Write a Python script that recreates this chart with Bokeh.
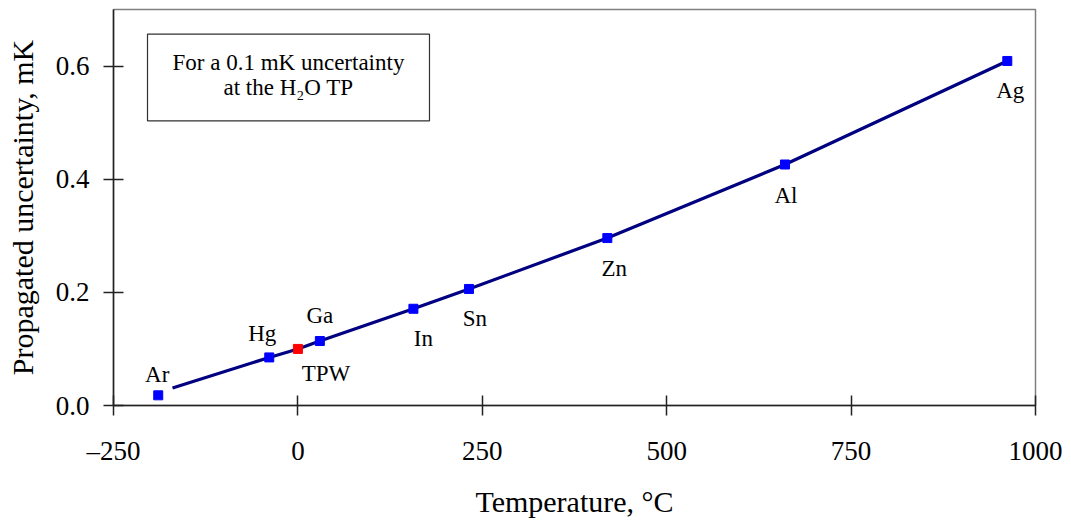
from bokeh.plotting import figure
from bokeh.models import (ColumnDataSource, Range1d, FixedTicker, BoxAnnotation,
                          Label, PrintfTickFormatter)
from bokeh.core.properties import value
from bokeh.embed import file_html
from bokeh.resources import INLINE

# ---- data ----
points = ["Ar", "Hg", "TPW", "Ga", "In", "Sn", "Zn", "Al", "Ag"]
temperature = [-189.3442, -38.8344, 0.01, 29.7646, 156.5985, 231.928, 419.527, 660.323, 961.78]
uncertainty = [0.018, 0.085, 0.100, 0.114, 0.171, 0.206, 0.296, 0.426, 0.609]

curve_t = [-170.0, -38.8344, 0.01, 29.7646, 156.5985, 231.928, 419.527, 660.323, 961.78]
curve_u = [0.031, 0.085, 0.100, 0.114, 0.171, 0.206, 0.296, 0.426, 0.609]

x_ticks = [-250, 0, 250, 500, 750, 1000]
x_tick_labels = ["\u2013250", "0", "250", "500", "750", "1000"]
y_ticks = [0.0, 0.2, 0.4, 0.6]

note_lines = ["For a 0.1 mK uncertainty", "at the H\u2082O TP"]

# ---- styling / layout (not data) ----
label_dx = [-1, -7, 28, 0, 10, 6, 7, 1, 3]
label_dy = [-21, -24, 25, -26, 30, 30, 30, 31, 30]
point_colors = ["#0000FF", "#0000FF", "#FF0000", "#0000FF", "#0000FF",
                "#0000FF", "#0000FF", "#0000FF", "#0000FF"]
FONT = "Liberation Serif"

p = figure(width=1065, height=520, output_backend="svg", toolbar_location=None,
           x_range=Range1d(-250, 1000), y_range=Range1d(0, 0.7),
           min_border_left=113, min_border_right=30, min_border_top=9,
           min_border_bottom=114)
p.grid.visible = False
p.outline_line_color = "#7f7f7f"
p.outline_line_width = 1.5
p.background_fill_color = "white"
p.border_fill_color = "white"

# axes
p.xaxis.ticker = FixedTicker(ticks=x_ticks)
p.xaxis.major_label_overrides = {t: l for t, l in zip(x_ticks, x_tick_labels)}
p.yaxis.ticker = FixedTicker(ticks=y_ticks)
p.yaxis.formatter = PrintfTickFormatter(format="%.1f")
for ax in (p.xaxis[0], p.yaxis[0]):
    ax.minor_tick_line_color = None
    ax.major_tick_in = 10
    ax.major_tick_out = 10
    ax.major_tick_line_color = "#222222"
    ax.major_tick_line_width = 1.5
    ax.axis_line_color = "#222222"
    ax.axis_line_width = 1.5
    ax.major_label_text_font = FONT
    ax.major_label_text_font_size = "27px"
    ax.major_label_text_color = "black"
    ax.axis_label_text_font = FONT
    ax.axis_label_text_font_size = "30px"
    ax.axis_label_text_font_style = "normal"
    ax.axis_label_text_color = "black"
p.xaxis.axis_label = "Temperature, \u00b0C"
p.yaxis.axis_label = "Propagated uncertainty, mK"
p.xaxis.major_label_standoff = 20
p.xaxis.axis_label_standoff = 16
p.yaxis.major_label_standoff = 14
p.yaxis.axis_label_standoff = 14

# note box
p.add_layout(BoxAnnotation(left=-203.9, right=178.4, top=0.6563, bottom=0.5033,
                           fill_color="white", fill_alpha=1.0,
                           line_color="#303030", line_alpha=1.0, line_width=1.2))
for txt, yy in zip(note_lines, [0.6056, 0.5613]):
    p.add_layout(Label(x=-12.8, y=yy, text=txt, text_align="center",
                       text_baseline="middle", text_font=FONT,
                       text_font_size="23px", text_color="black"))

# curve
p.line(curve_t, curve_u, line_color="#000080", line_width=3.2)

src = ColumnDataSource(dict(x=temperature, y=uncertainty, name=points,
                            c=point_colors, dx=label_dx, dy=label_dy))
p.scatter("x", "y", source=src, marker="square", size=9, fill_color="c",
          line_color="c")
p.text("x", "y", text="name", source=src, x_offset="dx", y_offset="dy",
       text_align="center", text_baseline="middle", text_font=value(FONT),
       text_font_size="23px", text_color="black")

open("out.html", "w").write(file_html(p, INLINE))
